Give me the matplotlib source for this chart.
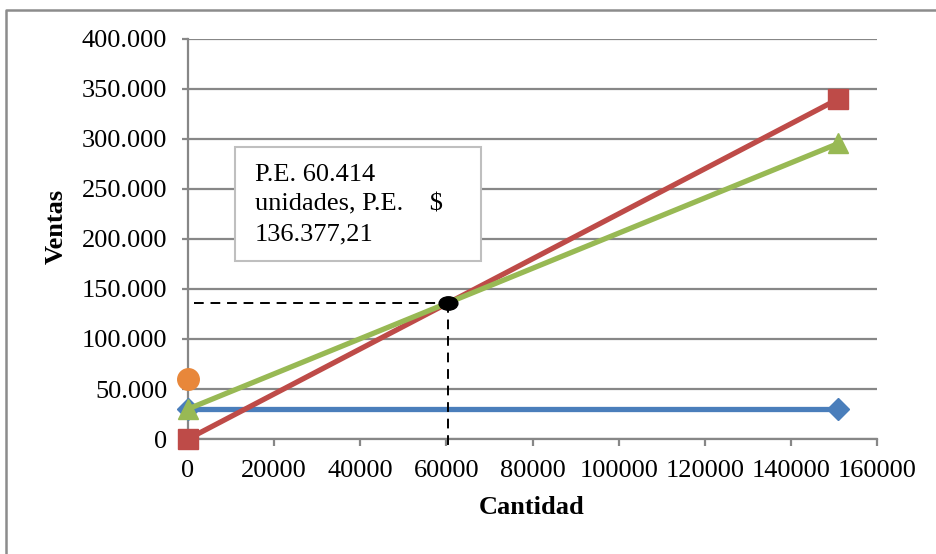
import matplotlib
matplotlib.use("Agg")
import matplotlib.pyplot as plt
from matplotlib.ticker import FuncFormatter, MultipleLocator
from matplotlib.lines import Line2D
from matplotlib.patches import Rectangle
from matplotlib.path import Path
from matplotlib.transforms import Affine2D

plt.rcParams["font.family"] = ["Liberation Serif", "DejaVu Serif"]

# ---- data ----
cantidad = [0, 151000]
costo_fijo = [30000, 30000]
ventas = [0, 340000]
costo_total = [30000, 295500]
punto_extra_x = [0]
punto_extra_y = [60000]

pe_unidades = 60414
pe_ventas = 136377.21
pe_texto = "P.E. 60.414\nunidades, P.E.    $\n136.377,21"

# ---- colours ----
AZUL = "#4A7EBB"
ROJO = "#BE4B48"
VERDE = "#98B954"
NARANJA = "#E8873A"
GRIS = "#878787"

W, H = 936, 554
fig = plt.figure(figsize=(W / 100, H / 100), dpi=100)
ax = fig.add_axes([188 / W, (H - 439) / H, (877 - 188) / W, 400 / H])

ax.plot(cantidad, costo_fijo, color=AZUL, lw=3.8, marker="D", ms=11.5,
        clip_on=False, zorder=3)
ax.plot(cantidad, ventas, color=ROJO, lw=3.8, marker="s", ms=15,
        clip_on=False, zorder=4)
ax.plot(cantidad, costo_total, color=VERDE, lw=3.8, marker="^", ms=15,
        clip_on=False, zorder=5)
ax.plot(punto_extra_x, punto_extra_y, color=NARANJA, ls="none", marker="o",
        ms=15.5, clip_on=False, zorder=5)

# dashed guides to the break-even point
ax.plot([1500, pe_unidades], [pe_ventas, pe_ventas], color="black", lw=1.4,
        ls=(0, (5, 3.5)), zorder=6)
ax.plot([pe_unidades, pe_unidades], [pe_ventas, -9000], color="black", lw=1.4,
        ls=(0, (5, 3.5)), clip_on=False, zorder=6)

# wide ellipse marker on the break-even point
elipse = Path.unit_circle().transformed(Affine2D().scale(1.4, 1.0))
ax.plot([pe_unidades], [pe_ventas], ls="none", marker=elipse, ms=13.5,
        color="black", zorder=7)

ax.set_xlim(0, 160000)
ax.set_ylim(0, 400000)
ax.xaxis.set_major_locator(MultipleLocator(20000))
ax.yaxis.set_major_locator(MultipleLocator(50000))
ax.yaxis.set_major_formatter(FuncFormatter(lambda v, p: f"{v:,.0f}".replace(",", ".")))
ax.xaxis.set_major_formatter(FuncFormatter(lambda v, p: f"{v:.0f}"))

ax.grid(axis="y", color=GRIS, lw=1.6, zorder=1)
ax.set_axisbelow(True)
for s in ["top", "right"]:
    ax.spines[s].set_visible(False)
for s in ["left", "bottom"]:
    ax.spines[s].set_color(GRIS)
    ax.spines[s].set_linewidth(1.6)
ax.tick_params(axis="y", length=4, width=1.6, color=GRIS, pad=11,
               labelsize=19, labelcolor="black")
ax.tick_params(axis="x", length=5, width=1.6, color=GRIS, pad=10,
               labelsize=19, labelcolor="black")

fig.text(56 / W, 1 - 226 / H, "Ventas", rotation=90, fontsize=19,
         fontweight="bold", ha="center", va="center")
fig.text(532 / W, 1 - 508 / H, "Cantidad", fontsize=19,
         fontweight="bold", ha="center", va="center")

# annotation box
fig.patches.append(Rectangle((235 / W, 1 - 261 / H), (481 - 235) / W, (261 - 147) / H,
                             transform=fig.transFigure, facecolor="white",
                             edgecolor="#BFBFBF", lw=1.5, zorder=10))
fig.text(255 / W, 1 - 164 / H, pe_texto, fontsize=19, ha="left", va="top",
         linespacing=1.45, zorder=11)

# outer chart frame
fig.lines.append(Line2D([6 / W, 6 / W, 1.0], [0.0, 1 - 10 / H, 1 - 10 / H],
                        transform=fig.transFigure, color="#8C8C8C", lw=1.8))

fig.savefig("out.png", dpi=100)
